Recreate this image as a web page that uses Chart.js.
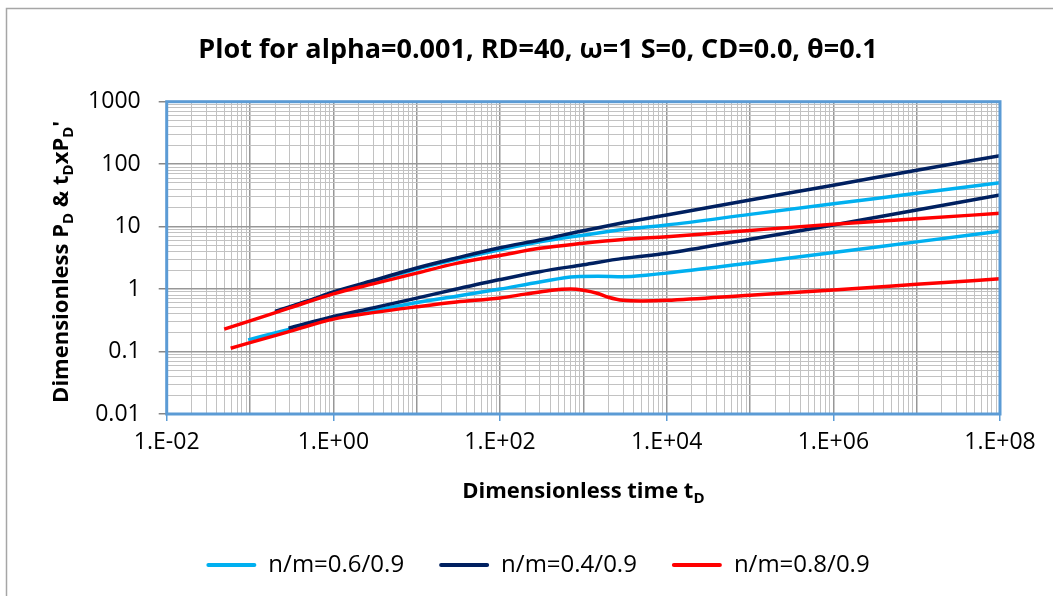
<!DOCTYPE html>
<html>
<head>
<meta charset="utf-8">
<script src="https://cdn.jsdelivr.net/npm/chart.js@4.4.1/dist/chart.umd.min.js"></script>
<style>
  html, body { margin: 0; padding: 0; background: #ffffff; }
  #wrap { width: 1053px; height: 596px; }
</style>
</head>
<body>
<div id="wrap"><canvas id="chart" width="1053" height="596"></canvas></div>
<script>
// ---- data: dimensionless time and responses for each n/m case ----
// upper curves: P_D, lower curves: t_D x P_D'
const tCyanPD  = [0.2, 0.5, 1, 3, 10, 30, 100, 300, 1000, 3000, 1e4, 1e5, 1e6, 1e7, 1e8];
const cyanPD   = [0.43, 0.64, 0.88, 1.33, 2.1, 3.0, 4.25, 5.7, 7.3, 9.0, 10.6, 15.7, 23.2, 34.2, 50.6];
const tCyanDer = [0.095, 0.3, 1, 3, 10, 30, 100, 300, 800, 1500, 3000, 6000, 1e4, 1e5, 1e6, 1e7, 1e8];
const cyanDer  = [0.154, 0.227, 0.342, 0.45, 0.61, 0.77, 1.0, 1.3, 1.58, 1.6, 1.58, 1.68, 1.8, 2.62, 3.84, 5.7, 8.4];

const tNavyPD  = [0.2, 0.5, 1, 3, 10, 30, 100, 300, 1000, 3000, 1e4, 1e5, 1e6, 1e7, 1e8];
const navyPD   = [0.44, 0.65, 0.9, 1.37, 2.18, 3.15, 4.6, 6.1, 8.6, 11.5, 15.4, 26.7, 46, 80, 137];
const tNavyDer = [0.29, 1, 3, 10, 30, 100, 300, 1000, 3000, 1e4, 1e5, 1e6, 1e7, 1e8];
const navyDer  = [0.236, 0.363, 0.5, 0.716, 1.0, 1.42, 1.9, 2.45, 3.1, 3.75, 6.3, 10.6, 18.5, 32];

const tRedPD   = [0.049, 0.1, 0.3, 1, 3, 10, 30, 100, 300, 1000, 3000, 1e4, 1e5, 1e6, 1e7, 1e8];
const redPD    = [0.228, 0.31, 0.5, 0.84, 1.21, 1.8, 2.58, 3.45, 4.5, 5.4, 6.2, 6.9, 8.7, 10.9, 13.4, 16.3];
const tRedDer  = [0.0586, 0.1, 0.3, 1, 3, 10, 30, 100, 200, 400, 700, 1000, 1500, 2000, 3000, 5000, 1e4, 1e5, 1e6, 1e7, 1e8];
const redDer   = [0.113, 0.139, 0.21, 0.33, 0.42, 0.52, 0.62, 0.72, 0.83, 0.95, 1.0, 0.96, 0.85, 0.74, 0.66, 0.645, 0.66, 0.8, 0.97, 1.19, 1.46];

const seriesNames = ['n/m=0.6/0.9', 'n/m=0.4/0.9', 'n/m=0.8/0.9'];

// ---- axis labels ----
const xLabelValues = [1e-2, 1e0, 1e2, 1e4, 1e6, 1e8];
const xTickLabels  = ['1.E-02', '1.E+00', '1.E+02', '1.E+04', '1.E+06', '1.E+08'];
const yLabelValues = [0.01, 0.1, 1, 10, 100, 1000];
const yTickLabels  = ['0.01', '0.1', '1', '10', '100', '1000'];

const titleText = 'Plot for alpha=0.001, RD=40, \u03c9=1 S=0, CD=0.0, \u03b8=0.1';

// ---- styles ----
const COLORS = { cyan: '#00B0F0', navy: '#002060', red: '#FF0000' };
const FONT = '"Open Sans", "Liberation Sans", sans-serif';
const FRAME_BLUE = '#5B9BD5';
const GRID_MAJOR = '#979797';
const GRID_MINOR = '#C2C2C2';

function toPoints(ts, vs) { return ts.map((t, i) => ({ x: t, y: vs[i] })); }

function sameValue(a, b) { return Math.abs(a - b) <= Math.abs(b) * 1e-9; }
function isDecade(v) { const l = Math.log10(v); return Math.abs(l - Math.round(l)) < 1e-9; }
function labelFor(v, values, labels) {
  const i = values.findIndex(d => sameValue(v, d));
  return i >= 0 ? labels[i] : '';
}

// 1..9 x 10^n grid values between lo and hi
function logGrid(lo, hi) {
  const out = [];
  for (let e = Math.round(Math.log10(lo)); e <= Math.round(Math.log10(hi)); e++) {
    for (let m = 1; m <= 9; m++) {
      const v = Number((m * Math.pow(10, e)).toPrecision(12));
      if (v >= lo * (1 - 1e-9) && v <= hi * (1 + 1e-9)) out.push(v);
    }
  }
  return out;
}

function lineSet(label, pts, color, order) {
  return {
    label, data: pts, borderColor: color, backgroundColor: color,
    borderWidth: 3.5, pointRadius: 0, pointHoverRadius: 0,
    cubicInterpolationMode: 'monotone', fill: false, order
  };
}

const datasets = [
  lineSet(seriesNames[0], toPoints(tCyanPD, cyanPD), COLORS.cyan, 3),
  lineSet(seriesNames[0], toPoints(tCyanDer, cyanDer), COLORS.cyan, 3),
  lineSet(seriesNames[1], toPoints(tNavyPD, navyPD), COLORS.navy, 2),
  lineSet(seriesNames[1], toPoints(tNavyDer, navyDer), COLORS.navy, 2),
  lineSet(seriesNames[2], toPoints(tRedPD, redPD), COLORS.red, 1),
  lineSet(seriesNames[2], toPoints(tRedDer, redDer), COLORS.red, 1)
];

// text with subscript pieces, centred at (cx, cy), optionally rotated
function drawRich(ctx, parts, cx, cy, rotate) {
  const base = 'bold 22px ' + FONT;
  const sub = 'bold 15px ' + FONT;
  ctx.save();
  ctx.translate(cx, cy);
  if (rotate) ctx.rotate(-Math.PI / 2);
  let total = 0;
  parts.forEach(p => { ctx.font = p.sub ? sub : base; p.w = ctx.measureText(p.text).width; total += p.w; });
  let x = -total / 2;
  ctx.fillStyle = '#000';
  ctx.textBaseline = 'alphabetic';
  ctx.textAlign = 'left';
  parts.forEach(p => {
    ctx.font = p.sub ? sub : base;
    ctx.fillText(p.text, x, p.sub ? 12.5 : 8);
    x += p.w;
  });
  ctx.restore();
}

const framePlugin = {
  id: 'frame',
  beforeDraw(chart) {
    const ctx = chart.ctx;
    ctx.save();
    ctx.fillStyle = '#fff';
    ctx.fillRect(0, 0, chart.width, chart.height);
    ctx.strokeStyle = '#A6A6A6';
    ctx.lineWidth = 1.5;
    ctx.strokeRect(6.5, 8.5, chart.width + 40, chart.height + 40);
    ctx.restore();
  },
  afterDatasetsDraw(chart) {
    const { ctx, chartArea: a } = chart;
    ctx.save();
    ctx.strokeStyle = FRAME_BLUE;
    ctx.lineWidth = 3;
    ctx.strokeRect(a.left, a.top, a.right - a.left, a.bottom - a.top);
    ctx.restore();
  },
  afterDraw(chart) {
    const ctx = chart.ctx;
    const a = chart.chartArea;
    drawRich(ctx, [
      { text: 'Dimensionless time t' }, { text: 'D', sub: true }
    ], (a.left + a.right) / 2, 490, false);
    drawRich(ctx, [
      { text: 'Dimensionless P' }, { text: 'D', sub: true },
      { text: ' & t' }, { text: 'D', sub: true },
      { text: 'xP' }, { text: 'D', sub: true }, { text: "'" }
    ], 60, (a.top + a.bottom) / 2 + 4, true);
  }
};

new Chart(document.getElementById('chart'), {
  type: 'line',
  data: { datasets },
  plugins: [framePlugin],
  options: {
    responsive: false,
    animation: false,
    layout: { padding: { left: 76, right: 53, top: 0, bottom: 9 } },
    plugins: {
      tooltip: { enabled: false },
      title: {
        display: true,
        text: titleText,
        color: '#000',
        font: { family: FONT, size: 27, weight: 'bold', lineHeight: 1.2 },
        padding: { top: 33.8, bottom: 35.5 }
      },
      legend: {
        position: 'bottom',
        labels: {
          color: '#000',
          font: { family: FONT, size: 24 },
          boxWidth: 50,
          boxHeight: 4,
          padding: 35,
          filter: (item) => item.datasetIndex % 2 === 0,
          sort: (a, b) => a.datasetIndex - b.datasetIndex,
          generateLabels(chart) {
            const items = Chart.defaults.plugins.legend.labels.generateLabels(chart);
            items.forEach(it => { it.lineWidth = 0; it.borderRadius = 2; });
            return items;
          }
        }
      }
    },
    scales: {
      x: {
        type: 'logarithmic',
        min: 0.01, max: 1e8,
        afterBuildTicks: (s) => { s.ticks = logGrid(0.01, 1e8).map(v => ({ value: v })); },
        afterFit: (s) => { s.height = 104; },
        border: { display: false },
        grid: {
          color: (c) => isDecade(c.tick.value) ? GRID_MAJOR : GRID_MINOR,
          lineWidth: (c) => isDecade(c.tick.value) ? 1.5 : 1,
          tickColor: (c) => labelFor(c.tick.value, xLabelValues, xTickLabels) ? FRAME_BLUE : 'rgba(0,0,0,0)',
          tickLength: 7,
          tickWidth: 1.5
        },
        ticks: {
          autoSkip: false, maxRotation: 0, minRotation: 0,
          padding: 8,
          color: '#000',
          font: { family: FONT, size: 23 },
          callback: (v) => labelFor(v, xLabelValues, xTickLabels)
        }
      },
      y: {
        type: 'logarithmic',
        min: 0.01, max: 1000,
        afterBuildTicks: (s) => { s.ticks = logGrid(0.01, 1000).map(v => ({ value: v })); },
        afterFit: (s) => { s.width = 90.7; },
        border: { display: false },
        grid: {
          color: (c) => isDecade(c.tick.value) ? GRID_MAJOR : GRID_MINOR,
          lineWidth: (c) => isDecade(c.tick.value) ? 1.5 : 1,
          tickColor: (c) => labelFor(c.tick.value, yLabelValues, yTickLabels) ? '#868686' : 'rgba(0,0,0,0)',
          tickLength: 8,
          tickWidth: 1.5
        },
        ticks: {
          autoSkip: false,
          padding: 18,
          color: '#000',
          font: { family: FONT, size: 23 },
          callback: (v) => labelFor(v, yLabelValues, yTickLabels)
        }
      }
    }
  }
});
</script>
</body>
</html>
